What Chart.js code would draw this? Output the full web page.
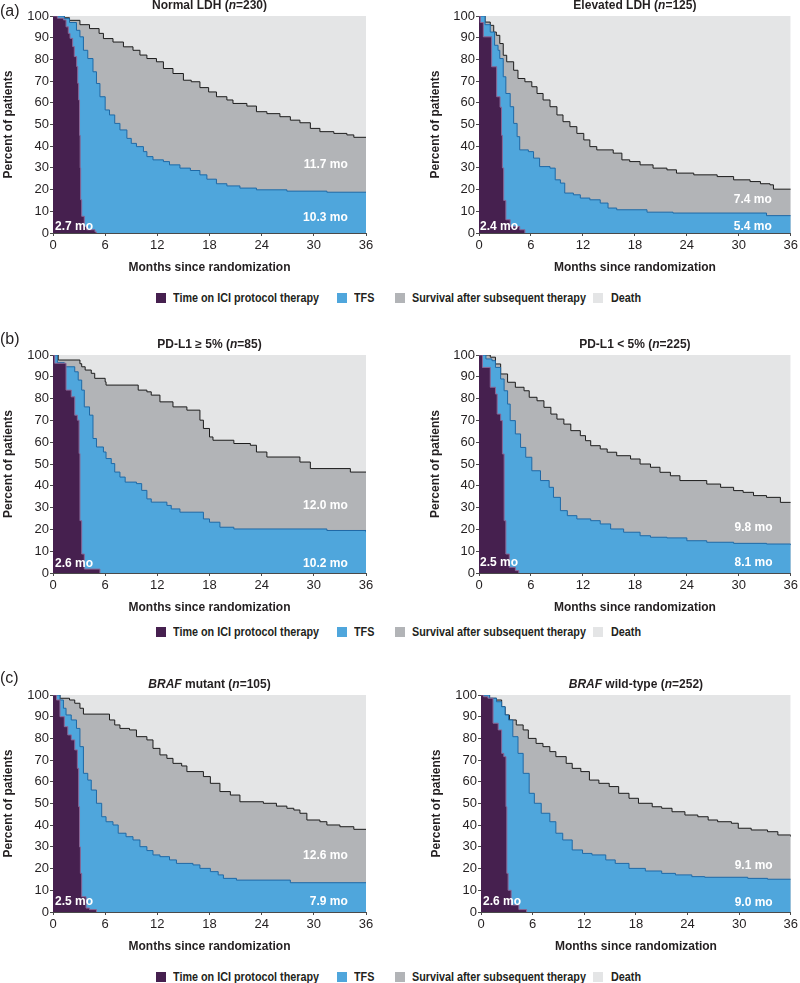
<!DOCTYPE html>
<html><head><meta charset="utf-8">
<script src="https://cdn.jsdelivr.net/npm/chart.js@4.4.1/dist/chart.umd.min.js"></script>
<style>
body{margin:0;background:#fff;width:800px;height:983px;position:relative;overflow:hidden;font-family:"Liberation Sans",Arial,sans-serif;}
canvas{position:absolute;}
.plab{position:absolute;left:0;font-size:16px;line-height:18px;color:#231f20;}
.leg{position:absolute;font-weight:bold;font-size:13px;font-family:"Liberation Sans",Arial,sans-serif;color:#231f20;white-space:nowrap;line-height:14px;transform:scaleX(0.83);transform-origin:0 0;}
.sq{position:absolute;width:10px;height:10px;}
</style></head><body>
<script>
// ---------------- DATA (months, percent of patients) ----------------
const monthTicks = [0, 6, 12, 18, 24, 30, 36];
const deathBand = [[0,100],[36,100]];

// (a) Normal LDH (n=230)
const normalLdhIci = [[0,100],[0.5,99],[1.2,98.2],[1.5,95],[1.76,92],[1.96,89.7],[2.26,85.9],[2.45,81.3],[2.72,76.7],[2.84,69],[2.95,61.3],[3.05,45],[3.12,30],[3.18,15.3],[3.3,7.7],[3.6,3],[3.87,1.5],[4.83,0.5],[5.0,0]];
const normalLdhTfs = [[0,100],[1.3,98.8],[1.9,97],[2.7,93.4],[3.1,90.4],[3.5,84.2],[4,80.4],[4.6,74.3],[5,68.9],[5.4,62.8],[6,56.7],[6.5,54.4],[7.1,50.5],[7.7,47.5],[8.5,43.6],[9,41.3],[9.6,39.8],[10.4,37.5],[10.8,35.2],[11.5,33.7],[12.7,32.9],[13.4,31.4],[14.6,29.9],[15.8,28.8],[16.9,26.8],[17.7,24.8],[18.8,22.7],[20,21.7],[21.5,20.7],[23.4,19.9],[26.9,19.3],[31.5,18.8],[36,18.8]];
const normalLdhOs = [[0,100],[1.3,99.2],[1.9,98],[3.1,96],[4.2,94.2],[5.3,92],[5.8,89.6],[6.9,88],[8.1,85.8],[9.2,84.2],[10,82],[10.8,80.4],[11.9,78.9],[12.7,75.8],[13.8,73.5],[15,70.4],[15.9,69.7],[16.9,67],[17.9,65],[18.8,62.8],[20,61.3],[20.7,59.7],[22.3,58.5],[23.4,55.9],[24.6,55],[26.1,53.6],[27.3,52],[28.4,50.8],[29.6,48.2],[30.7,46.7],[32.3,45.9],[33.8,45.2],[34.6,44.1],[36,44.1]];
const normalLdhMedians = ['2.7 mo','11.7 mo','10.3 mo'];

// (a) Elevated LDH (n=125)
const elevatedLdhIci = [[0,100],[0.15,97],[0.5,90.4],[1.46,76.6],[2.04,62.8],[2.43,58],[2.6,45],[2.7,30],[2.85,15],[3.1,6.1],[3.6,3],[4.7,1.5],[5.3,0]];
const elevatedLdhTfs = [[0,100],[0.7,96],[1.3,92.6],[1.8,86.5],[2.2,84.2],[2.4,80.4],[2.8,72],[3.1,64.3],[3.6,58.2],[4,50.5],[4.4,44.4],[4.7,38.3],[5.7,37.5],[6.3,34.5],[7,30.6],[8.2,29.9],[8.8,24.5],[9.4,23],[9.9,18.4],[10.9,17.6],[11.7,16.1],[12.8,15.3],[14,13.8],[14.9,11.5],[15.9,10.7],[19.4,9.6],[22.4,9.2],[33.2,8],[36,8]];
const elevatedLdhOs = [[0,100],[0.7,97.2],[1.3,95.7],[1.7,92.6],[2,91.1],[2.4,87.3],[2.8,81.9],[3.2,78.9],[4,75],[4.5,71.2],[5.3,69.7],[6.1,67.4],[6.7,64.3],[7.4,61.3],[8.2,58.2],[9,54.4],[9.7,51.3],[10.5,49],[11.3,45.9],[12.1,42.9],[12.8,39.8],[13.6,38.3],[15.5,36.8],[16.5,33.7],[17.4,32.9],[18.6,31.4],[20.1,29.9],[21.7,29.1],[22.8,27.6],[24.8,26.8],[27.5,26],[29.4,24.5],[31.3,23.7],[32.5,22.7],[33.6,22.2],[34,20.2],[36,20.2]];
const elevatedLdhMedians = ['2.4 mo','7.4 mo','5.4 mo'];

// (b) PD-L1 >= 5% (n=85)
const pdl1HighIci = [[0,100],[0.2,96.2],[1.5,83.9],[2.1,80.8],[2.5,72.4],[2.8,70.1],[3.0,54.8],[3.1,24],[3.3,8.7],[3.6,1.8],[5.4,0]];
const pdl1HighTfs = [[0,100],[0.5,96.5],[1.3,94.6],[2.5,92.3],[2.9,88.5],[3.3,83.9],[3.6,76.2],[4.2,72.4],[4.6,61.7],[5,57.8],[5.8,55.5],[6.1,52.5],[6.7,50.2],[7.1,46.3],[7.7,44],[8.3,41.7],[9.6,41],[10.2,37.9],[10.8,34],[11.3,32.5],[13.1,31],[13.6,29.4],[14.6,27.9],[17.3,24.8],[18,23.3],[19.2,21],[20.8,20.2],[31.5,19.5],[36,18.7]];
const pdl1HighOs = [[0,100],[0.6,97.7],[3.1,96],[3.3,94.6],[3.7,93.1],[4.4,91.6],[4.8,89.3],[6,87.7],[6.1,86.2],[9.8,83.9],[10.8,83.1],[11.3,81.6],[12.3,78.5],[13.8,76.2],[15.4,74.7],[16.9,70.1],[17.3,66.3],[18,62.4],[18.4,60.9],[20.8,59.4],[22.7,58.6],[23.4,55.5],[24.6,53.2],[28.4,50.9],[29.6,47.9],[34.2,46.3],[36,46.3]];
const pdl1HighMedians = ['2.6 mo','12.0 mo','10.2 mo'];

// (b) PD-L1 < 5% (n=225)
const pdl1LowIci = [[0,100],[0.4,94.3],[1.3,85.2],[1.9,82.1],[2.1,72.9],[2.5,69.9],[2.7,54.6],[2.9,24],[3.1,8.7],[3.5,2.6],[4.2,1.1],[4.6,0]];
const pdl1LowTfs = [[0,100],[0.8,98.2],[1.5,97.4],[1.9,94.3],[2.5,89],[2.9,83.6],[3.3,77.5],[3.6,69.9],[4.2,63.8],[4.8,57.6],[5.4,53.1],[6.1,46.9],[7.1,42.4],[8.1,39.3],[8.6,34.7],[9.4,28.6],[10.2,26.3],[11.3,24.8],[12.9,24],[14,22.5],[15.2,20.2],[16.7,18.7],[18.6,17.1],[19.8,16.4],[21.7,16.1],[24,14.8],[26.3,14.1],[29.4,13.6],[33.2,13.3],[36,12.8]];
const pdl1LowOs = [[0,100],[1.3,99],[1.9,95.9],[2.5,91.3],[3.3,87.5],[4.2,85.2],[5.2,83.6],[5.8,80.6],[6.7,79],[7.5,76],[8.3,72.9],[9,70.6],[9.8,68.3],[10.6,65.3],[11.7,63],[12.3,60.7],[12.9,58.4],[14,56.9],[14.8,55.4],[15.9,53.8],[17.5,52.3],[18.6,50],[19.8,48.5],[20.9,46.2],[22.1,44.6],[23.2,42.4],[26.3,40.8],[27.9,39.3],[29.4,37.8],[30.5,37],[31.7,35.5],[33.2,34.7],[34.8,32.4],[36,32.4]];
const pdl1LowMedians = ['2.5 mo','9.8 mo','8.1 mo'];

// (c) BRAF mutant (n=105)
const brafMutIci = [[0,100],[0.4,97.7],[0.8,90],[1.3,85.4],[1.7,81.6],[2.1,79.3],[2.5,74.7],[2.8,66.2],[2.95,48.5],[3.05,30],[3.15,17.8],[3.3,7],[3.8,1.8],[4.2,1.1],[5.0,0]];
const brafMutTfs = [[0,100],[0.8,97.7],[1.2,93.9],[1.5,90.8],[2.1,88.5],[2.7,84.6],[3.1,76.2],[3.5,63.9],[4,60.8],[4.4,56.2],[5,50.1],[5.6,43.9],[6.1,41.6],[6.9,40.1],[7.5,36.3],[8.4,34.7],[9.2,33.2],[10,30.1],[10.8,28.3],[11.5,26.3],[12.3,25.5],[13.4,24],[14.2,22.4],[16.1,21.7],[16.9,20.1],[18.1,18.6],[19,17.1],[19.6,15.5],[21.1,14.7],[27.3,13.5],[36,13.5]];
const brafMutOs = [[0,100],[0.8,98.5],[1.9,97.7],[2.5,96.2],[3.1,93.9],[3.5,91.2],[6.5,88.5],[7.1,86.2],[7.7,84.6],[8.8,83.9],[9.6,80.8],[10.8,79.3],[11.5,75.4],[12.3,72.4],[13.1,70.8],[13.8,68.5],[14.8,67.3],[15.4,64.7],[17.3,62.4],[18.1,59.3],[19.2,55.5],[20.4,53.9],[21.5,50.8],[24.2,50.1],[25.7,48.8],[26.9,47.8],[27.7,47],[28.4,45.5],[29.2,42.4],[30.7,41.6],[31.5,40.1],[33,39.3],[34.6,38.1],[36,38.1]];
const brafMutMedians = ['2.5 mo','12.6 mo','7.9 mo'];

// (c) BRAF wild-type (n=252)
const brafWtIci = [[0,100],[0.3,99.2],[0.8,98.5],[1.4,87],[2,83.9],[2.4,73.1],[2.65,71.6],[2.9,48.5],[3.0,17.8],[3.15,10],[3.5,3.2],[4.4,1.1],[5.3,0]];
const brafWtTfs = [[0,100],[1,98.5],[1.8,96.9],[2.4,94.6],[2.8,90.8],[3.2,88.5],[3.7,80.8],[4.3,73.1],[4.9,63.9],[5.6,54.7],[6.2,50.1],[7,45.5],[8,41.6],[8.7,36.3],[9.5,33.2],[10.6,28.6],[11.8,27],[12.9,26.3],[14.5,24],[15.6,22.4],[17.2,20.1],[19.1,18.9],[21,17.8],[22.6,17.1],[24.5,16.3],[26,16],[31,15.5],[33.3,15.1],[36,15.1]];
const brafWtOs = [[0,100],[1,98.5],[1.8,97.7],[2.4,94.6],[2.8,90.8],[3.3,88.5],[4.1,86.2],[4.9,83.9],[5.5,80],[6.4,77.7],[7.2,76.2],[8,73.9],[8.7,71.6],[9.9,68.5],[10.6,66.2],[11.6,64.7],[12.6,60.8],[13.7,59.3],[14.9,57.8],[16,54.7],[17.2,52.4],[18.3,50.1],[19.9,48.5],[21,47.8],[22.2,46.2],[23.7,44.7],[25.2,43.9],[26.4,42.4],[27.5,41.6],[29.1,40.9],[29.9,38.6],[31.4,37.8],[33.3,37],[34.5,35.5],[36,34.7]];
const brafWtMedians = ['2.6 mo','9.1 mo','9.0 mo'];

// titles: [text, style]
const titleNormalLdh = [['Normal LDH (',''],['n','italic'],['=230)','']];
const titleElevatedLdh = [['Elevated LDH (',''],['n','italic'],['=125)','']];
const titlePdl1High = [['PD-L1 \u2265 5% (',''],['n','italic'],['=85)','']];
const titlePdl1Low = [['PD-L1 < 5% (',''],['n','italic'],['=225)','']];
const titleBrafMut = [['BRAF','italic'],[' mutant (',''],['n','italic'],['=105)','']];
const titleBrafWt = [['BRAF','italic'],[' wild-type (',''],['n','italic'],['=252)','']];

const legendLabels = ['Time on ICI protocol therapy','TFS','Survival after subsequent therapy','Death'];
const panelLetters = ['(a)','(b)','(c)'];
const xAxisTitle = 'Months since randomization';
const yAxisTitle = 'Percent of patients';

// ---------------- STYLE / LAYOUT ----------------
const FONT = '"Liberation Sans", Arial, Helvetica, sans-serif';
const COLORS = {ici:'#46204f', iciLine:'#8a6695', tfs:'#4fa6dc', tfsLine:'#1f69a6', os:'#b2b4b7', osLine:'#1c1c1c', death:'#e4e5e6'};
const legendColors = [COLORS.ici, COLORS.tfs, COLORS.os, COLORS.death];

const panels = [
  {ici:normalLdhIci, tfs:normalLdhTfs, os:normalLdhOs, title:titleNormalLdh, med:normalLdhMedians, medPos:[[0.23,3.0],[33.9,31.3],[33.9,6.9]], left:0, top:0, h:280, yW:53, padR:14, yTp:1},
  {ici:elevatedLdhIci, tfs:elevatedLdhTfs, os:elevatedLdhOs, title:titleElevatedLdh, med:elevatedLdhMedians, medPos:[[0.12,3.0],[33.8,15.2],[33.8,3.0]], left:420, top:0, h:280, yW:59, padR:9, yTp:8},
  {ici:pdl1HighIci, tfs:pdl1HighTfs, os:pdl1HighOs, title:titlePdl1High, med:pdl1HighMedians, medPos:[[0.23,4.4],[33.9,30.7],[33.9,4.1]], left:0, top:339, h:281, yW:53, padR:14, yTp:1},
  {ici:pdl1LowIci, tfs:pdl1LowTfs, os:pdl1LowOs, title:titlePdl1Low, med:pdl1LowMedians, medPos:[[0.12,4.8],[33.9,20.6],[33.9,4.8]], left:420, top:339, h:281, yW:59, padR:9, yTp:8},
  {ici:brafMutIci, tfs:brafMutTfs, os:brafMutOs, title:titleBrafMut, med:brafMutMedians, medPos:[[0.23,4.6],[33.9,25.8],[33.9,4.6]], left:0, top:679, h:280, yW:53, padR:14, yTp:1},
  {ici:brafWtIci, tfs:brafWtTfs, os:brafWtOs, title:titleBrafWt, med:brafWtMedians, medPos:[[0.23,4.6],[33.9,21.2],[33.9,4.1]], left:420, top:679, h:280, yW:61, padR:7, yTp:9}
];

const toXY = a => a.map(p => ({x:p[0], y:p[1]}));

const annotPlugin = {
  id:'annot',
  afterDatasetsDraw(chart) {
    const {ctx, chartArea, scales} = chart;
    const cfg = chart.options.plugins.annot;
    ctx.save();
    ctx.fillStyle = '#ffffff';
    ctx.font = 'bold 12px ' + FONT;
    ctx.textBaseline = 'middle';
    cfg.med.forEach((t, i) => {
      const p = cfg.medPos[i];
      ctx.textAlign = i === 0 ? 'left' : 'right';
      ctx.fillText(t, scales.x.getPixelForValue(p[0]), scales.y.getPixelForValue(p[1]));
    });
    ctx.fillStyle = '#231f20';
    ctx.textAlign = 'left';
    const fonts = cfg.title.map(r => (r[1] === 'italic' ? 'italic ' : '') + 'bold 12px ' + FONT);
    let total = 0;
    const widths = cfg.title.map((r, i) => { ctx.font = fonts[i]; const w = ctx.measureText(r[0]).width; total += w; return w; });
    let x = (chartArea.left + chartArea.right) / 2 - total / 2;
    cfg.title.forEach((r, i) => { ctx.font = fonts[i]; ctx.fillText(r[0], x, 6); x += widths[i]; });
    ctx.restore();
  }
};

panels.forEach(p => {
  const w = 380;
  const cv = document.createElement('canvas');
  cv.width = w; cv.height = p.h;
  cv.style.left = p.left + 'px'; cv.style.top = p.top + 'px';
  cv.style.width = w + 'px'; cv.style.height = p.h + 'px';
  document.body.appendChild(cv);
  const line = {pointRadius:0, stepped:true, fill:'origin', borderWidth:1};
  const axisCommon = {
    grid:{drawOnChartArea:false, drawTicks:true, tickLength:3, color:'#4a4a4a'},
    border:{display:true, color:'#4a4a4a', width:1}
  };
  new Chart(cv, {
    type:'line',
    data:{datasets:[
      Object.assign({label:legendLabels[0], data:toXY(p.ici), backgroundColor:COLORS.ici, borderColor:COLORS.iciLine}, line),
      Object.assign({label:legendLabels[1], data:toXY(p.tfs), backgroundColor:COLORS.tfs, borderColor:COLORS.tfsLine}, line),
      Object.assign({label:legendLabels[2], data:toXY(p.os), backgroundColor:COLORS.os, borderColor:COLORS.osLine}, line),
      {label:legendLabels[3], data:toXY(deathBand), backgroundColor:COLORS.death, borderWidth:0, pointRadius:0, fill:'origin'}
    ]},
    options:{
      responsive:false, maintainAspectRatio:false, animation:false, events:[],
      layout:{padding:{left:0, right:p.padR, top:16, bottom:3}},
      plugins:{legend:{display:false}, tooltip:{enabled:false}, annot:{title:p.title, med:p.med, medPos:p.medPos}},
      scales:{
        x:Object.assign({type:'linear', min:0, max:36,
          afterBuildTicks:s => { s.ticks = monthTicks.map(v => ({value:v})); },
          afterFit:s => { s.height = 44; },
          ticks:{font:{size:13, family:FONT}, color:'#231f20', padding:2, maxRotation:0, autoSkip:false},
          title:{display:true, text:xAxisTitle, color:'#231f20', font:{size:12, weight:'bold', family:FONT}, padding:{top:0, bottom:2}}
        }, axisCommon),
        y:Object.assign({type:'linear', min:0, max:100,
          afterFit:s => { s.width = p.yW; },
          ticks:{stepSize:10, font:{size:13, family:FONT}, color:'#231f20', padding:1},
          title:{display:true, text:yAxisTitle, color:'#231f20', font:{size:12, weight:'bold', family:FONT}, padding:{top:p.yTp, bottom:0}}
        }, axisCommon)
      }
    },
    plugins:[annotPlugin]
  });
});

// panel letters
[2, 330, 669].forEach((t, i) => {
  const d = document.createElement('div');
  d.className = 'plab'; d.style.top = t + 'px'; d.textContent = panelLetters[i];
  document.body.appendChild(d);
});

// legends (one per row)
const legendRowsY = [297.5, 632, 976.5];
const legendSqX = [156, 337, 395, 593];
const legendTxtX = [173, 354, 412, 611];
legendRowsY.forEach(cy => {
  legendLabels.forEach((lab, i) => {
    const s = document.createElement('div');
    s.className = 'sq'; s.style.left = legendSqX[i] + 'px'; s.style.top = (cy - 5) + 'px';
    s.style.background = legendColors[i];
    document.body.appendChild(s);
    const t = document.createElement('div');
    t.className = 'leg'; t.style.left = legendTxtX[i] + 'px'; t.style.top = (cy - 7) + 'px';
    t.textContent = lab;
    document.body.appendChild(t);
  });
});
</script>
</body></html>
